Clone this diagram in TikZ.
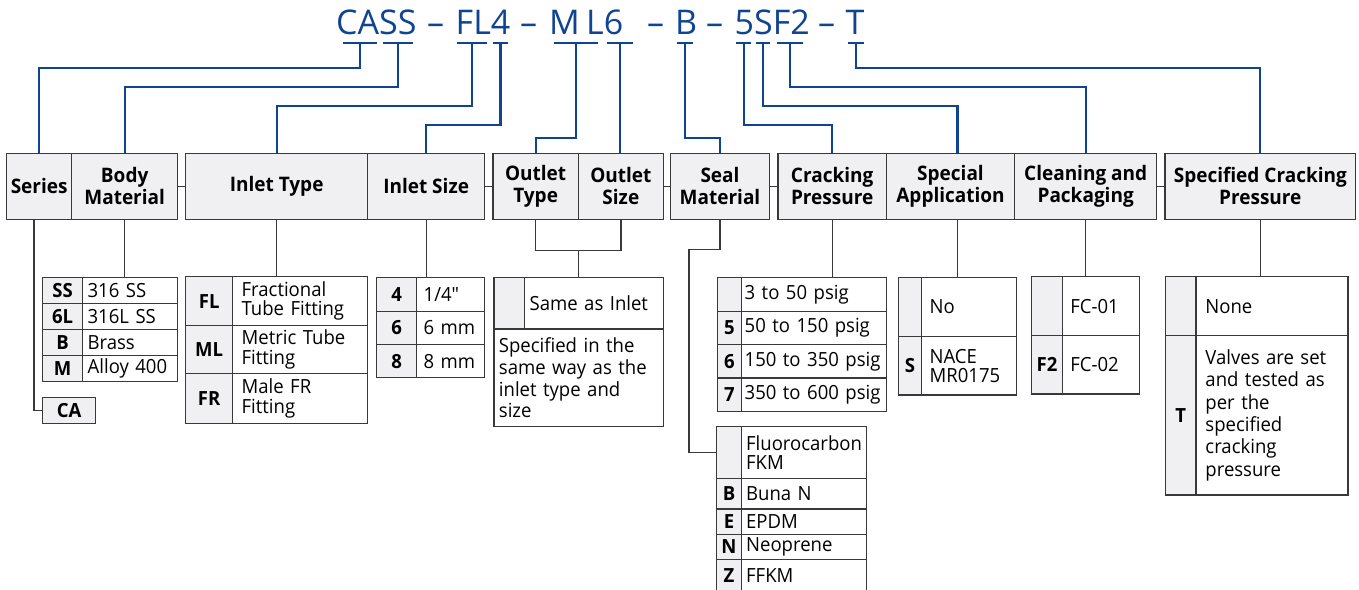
\documentclass[tikz,border=0pt]{standalone}
\usepackage{fontspec}
\setmainfont{Open Sans}[FakeStretch=0.95]
\newfontfamily\vf{Open Sans}[FakeStretch=0.95]
\newfontfamily\tf{Open Sans}
\usetikzlibrary{calc}
\definecolor{cblue}{RGB}{14,68,145}
\definecolor{cgray}{RGB}{240,240,243}
\definecolor{cline}{RGB}{58,56,56}
\def\cbpad{5}
\newcommand\cbox[7][]{%
  \pgfmathsetmacro\cbw{#5-#3}%
  \pgfmathsetmacro\cbh{#6-#4}%
  \pgfmathsetmacro\cbtw{#5-#3-2*\cbpad}%
  \node[cbx, minimum width=\cbw pt, minimum height=\cbh pt, anchor=north west, #1] (#2) at (#3,#4) {#7};}
\begin{document}
\begin{tikzpicture}[x=1pt,y=-1pt,
  cbx/.style={draw=cline, line width=1.3pt, inner sep=0pt, fill=white},
  hd/.style={fill=cgray, align=center, font=\bfseries\fontsize{20}{21.5}\selectfont},
  cd/.style={fill=cgray, align=center, font=\bfseries\fontsize{19.5}{20}\selectfont},
  val/.style={align=left, text width=\cbtw pt, inner xsep=\cbpad pt, font=\vf\fontsize{19.5}{19.5}\selectfont},
  lead/.style={font=\vf\fontsize{19.5}{#1}\selectfont},
  tline/.style={draw=cline, line width=1.3pt},
  bline/.style={draw=cblue, line width=2.3pt},
  ttl/.style={text=cblue, inner sep=0pt, anchor=base west, font=\tf\fontsize{34}{34}\selectfont}]
\clip (0,0) rectangle (1359,589);
\fill[white] (0,0) rectangle (1359,589);

% ---------- title ----------
\node[ttl] (tCASS) at (336,34.3) {CASS};
\node[ttl] (d1) at (427,34.3) {–};
\node[ttl] (tFL4) at (455.5,34.3) {FL4};
\node[ttl] (d2) at (520,34.3) {–};
\node[ttl] (tM) at (549,34.3) {M};
\node[ttl] (tL6) at (586,34.3) {L6};
\node[ttl] (d3) at (647,34.3) {–};
\node[ttl] (tB) at (675,34.3) {B};
\node[ttl] (d4) at (706,34.3) {–};
\node[ttl] (t5SF2) at (734.5,34.3) {5SF2};
\node[ttl] (d5) at (818,34.3) {–};
\node[ttl] (tT) at (845.5,34.3) {T};

% levels
\coordinate (L1) at (0,68.3);
\coordinate (L2) at (0,87.3);
\coordinate (L3) at (0,106);
\coordinate (L4) at (0,125);
\coordinate (L5) at (0,138.3);

% ---------- header row ----------
\cbox[hd]{series}{6}{152.5}{71}{218.5}{Series}
\cbox[hd]{body}{71}{152.5}{177}{218.5}{Body\\Material}
\cbox[hd]{itype}{185}{152.5}{367}{218.5}{Inlet Type}
\cbox[hd]{isize}{367}{152.5}{484}{218.5}{Inlet Size}
\cbox[hd]{otype}{492.3}{152.5}{577.7}{218.5}{Outlet\\Type}
\cbox[hd]{osize}{577.7}{152.5}{662.7}{218.5}{Outlet\\Size}
\cbox[hd]{seal}{670}{152.5}{768.7}{218.5}{Seal\\Material}
\cbox[hd]{crack}{777.3}{152.5}{885.7}{218.5}{Cracking\\Pressure}
\cbox[hd]{spec}{885.7}{152.5}{1014}{218.5}{Special\\Application}
\cbox[hd]{clean}{1014}{152.5}{1156}{218.5}{Cleaning and\\Packaging}
\cbox[hd]{scp}{1164.3}{152.5}{1355}{218.5}{Specified Cracking\\Pressure}

\draw[tline] (body.east) -- (itype.west);
\draw[tline] (isize.east) -- (otype.west);
\draw[tline] (osize.east) -- (seal.west);
\draw[tline] (seal.east) -- (crack.west);
\draw[tline] (clean.east) -- (scp.west);

% ---------- body material ----------
\def\cbpad{5}
\cbox[cd]{ssc}{42}{277}{82}{302.7}{SS}
\cbox[val]{ssv}{82}{277}{177}{302.7}{316 SS}
\cbox[cd]{slc}{42}{302.7}{82}{329}{6L}
\cbox[val]{slv}{82}{302.7}{177}{329}{316L SS}
\cbox[cd]{brc}{42}{329}{82}{355}{B}
\cbox[val]{brv}{82}{329}{177}{355}{Brass}
\cbox[cd]{alc}{42}{355}{82}{380.7}{M}
\cbox[val]{alv}{82}{355}{177}{380.7}{Alloy 400}
\cbox[cd]{ca}{42}{397}{95}{423}{CA}

% ---------- inlet type ----------
\def\cbpad{9}
\cbox[cd]{flc}{185}{276}{232}{325}{FL}
\cbox[val,lead=19.3]{flv}{232}{276}{367}{325}{Fractional\\Tube Fitting}
\cbox[cd]{mlc}{185}{325}{232}{373}{ML}
\cbox[val,lead=19.5]{mlv}{232}{325}{367}{373}{Metric Tube\\Fitting}
\cbox[cd]{frc}{185}{373}{232}{423}{FR}
\cbox[val,lead=19.5]{frv}{232}{373}{367}{423}{Male FR\\Fitting}

% ---------- inlet size ----------
\def\cbpad{7}
\cbox[cd]{s4c}{376}{277}{416}{310.7}{4}
\cbox[val]{s4v}{416}{277}{484}{310.7}{1/4"}
\cbox[cd]{s6c}{376}{310.7}{416}{344}{6}
\cbox[val]{s6v}{416}{310.7}{484}{344}{6 mm}
\cbox[cd]{s8c}{376}{344}{416}{377}{8}
\cbox[val]{s8v}{416}{344}{484}{377}{8 mm}

% ---------- outlet ----------
\def\cbpad{5}
\cbox[cd]{osc}{493.3}{276.7}{524}{328.3}{}
\cbox[val]{osv}{524}{276.7}{662.7}{328.3}{Same as Inlet}
\cbox[val,lead=21.8]{ospec}{493.3}{328.3}{662.7}{426}{Specified in the\\same way as the\\inlet type and\\size}

% ---------- cracking pressure ----------
\def\cbpad{3}
\cbox[cd]{c1c}{716.7}{276.7}{741}{310.7}{}
\cbox[val]{c1v}{741}{276.7}{885.7}{310.7}{3 to 50 psig}
\cbox[cd]{c5c}{716.7}{310.7}{741}{344}{5}
\cbox[val]{c5v}{741}{310.7}{885.7}{344}{50 to 150 psig}
\cbox[cd]{c6c}{716.7}{344}{741}{377.3}{6}
\cbox[val]{c6v}{741}{344}{885.7}{377.3}{150 to 350 psig}
\cbox[cd]{c7c}{716.7}{377.3}{741}{410.7}{7}
\cbox[val]{c7v}{741}{377.3}{885.7}{410.7}{350 to 600 psig}

% ---------- seal material ----------
\def\cbpad{4.5}
\cbox[cd]{fkc}{715.7}{425.7}{741}{477.7}{}
\cbox[val,lead=19.5]{fkv}{741}{425.7}{865.7}{477.7}{Fluorocarbon\\FKM}
\cbox[cd]{bnc}{715.7}{477.7}{741}{508.3}{B}
\cbox[val]{bnv}{741}{477.7}{865.7}{508.3}{Buna N}
\cbox[cd]{epc}{715.7}{508.3}{741}{533.5}{E}
\cbox[val]{epv}{741}{508.3}{865.7}{533.5}{EPDM}
\cbox[cd]{nec}{715.7}{533.5}{741}{559}{N}
\cbox[val]{nev}{741}{533.5}{865.7}{559}{Neoprene}
\cbox[cd]{ffc}{715.7}{559}{741}{590.5}{Z}
\cbox[val]{ffv}{741}{559}{865.7}{590.5}{FFKM}

% ---------- special application ----------
\def\cbpad{8}
\cbox[cd]{spc}{897.7}{276.7}{921}{335.7}{}
\cbox[val]{spv}{921}{276.7}{1015.7}{335.7}{No}
\cbox[cd]{snc}{897.7}{335.7}{921}{394.3}{S}
\cbox[val,lead=19]{snv}{921}{335.7}{1015.7}{394.3}{NACE\\MR0175}

% ---------- cleaning ----------
\cbox[cd]{f1c}{1031}{276}{1061.7}{335}{}
\cbox[val]{f1v}{1061.7}{276}{1139}{335}{FC-01}
\cbox[cd]{f2c}{1031}{335}{1061.7}{393.3}{F2}
\cbox[val]{f2v}{1061.7}{335}{1139}{393.3}{FC-02}

% ---------- specified cracking pressure ----------
\def\cbpad{9.5}
\cbox[cd]{noc}{1165}{276}{1195.3}{335}{}
\cbox[val]{nov}{1195.3}{276}{1347.3}{335}{None}
\cbox[cd]{tc}{1165}{335}{1195.3}{494.3}{T}
\cbox[val,lead=22.3]{tv}{1195.3}{335}{1347.3}{494.3}{Valves are set\\and tested as\\per the\\specified\\cracking\\pressure}

% ---------- header to table connectors ----------
\coordinate (serx) at (34,0);
\draw[tline] (series.south -| serx) |- (ca.west);
\draw[tline] (body.south) -- (body.south |- ssv.north);
\draw[tline] (itype.south) -- (itype.south |- flv.north);
\draw[tline] (isize.south) -- (isize.south |- s4v.north);
\coordinate (ojoin) at ($(otype.south)!0.5!(osize.south)+(0,30.8)$);
\draw[tline] (otype.south) |- (ojoin) -| (osize.south);
\draw[tline] (ojoin) -- (ojoin |- osv.north);
\coordinate (sealbend) at (689,249.3);
\draw[tline] (seal.south) |- (sealbend) |- (fkc.west);
\draw[tline] (crack.south) -- (crack.south |- c1v.north);
\coordinate (spx) at ($(spc.north west)!0.5!(spv.north east)$);
\draw[tline] (spx |- spec.south) -- (spx);
\draw[tline] (clean.south) -- (clean.south |- f1v.north);
\draw[tline] (scp.south) -- (scp.south |- nov.north);

% ---------- code bars and blue connectors ----------
\newcommand\codebar[3]{%
  \coordinate (#1a) at (#2,42.7); \coordinate (#1b) at (#3,42.7);
  \coordinate (#1) at ($(#1a)!0.5!(#1b)$);
  \draw[bline] (#1a) -- (#1b);}
\codebar{bCA}{343.3}{377.3}
\codebar{bSS}{383.3}{412.7}
\codebar{bFL}{457.3}{486.7}
\codebar{bIS}{492.7}{508.3}
\codebar{bML}{554}{597.7}
\codebar{bOS}{606.7}{632.7}
\codebar{bB}{677.3}{693.3}
\codebar{bCP}{736}{751.3}
\codebar{bSA}{755.7}{770}
\codebar{bF2}{777.3}{803.3}
\codebar{bT}{847.7}{864}

\draw[bline] (bCA) -- (bCA |- L1) -| (series.north);
\draw[bline] (bSS) -- (bSS |- L2) -| (body.north);
\draw[bline] (bFL) -- (bFL |- L3) -| (itype.north);
\draw[bline] (bIS) -- (bIS |- L4) -| (isize.north);
\draw[bline] (bML) -- (bML |- L5) -| (otype.north);
\draw[bline] (bOS) -- (bOS |- osize.north);
\draw[bline] (bB) -- (bB |- L5) -| (seal.north);
\draw[bline] (bCP) -- (bCP |- L4) -| (crack.north);
\draw[bline] (bSA) -- (bSA |- L3) -| (spx |- spec.north);
\draw[bline] (bF2) -- (bF2 |- L2) -| (clean.north);
\draw[bline] (bT) -- (bT |- L1) -| (scp.north);
\end{tikzpicture}
\end{document}
